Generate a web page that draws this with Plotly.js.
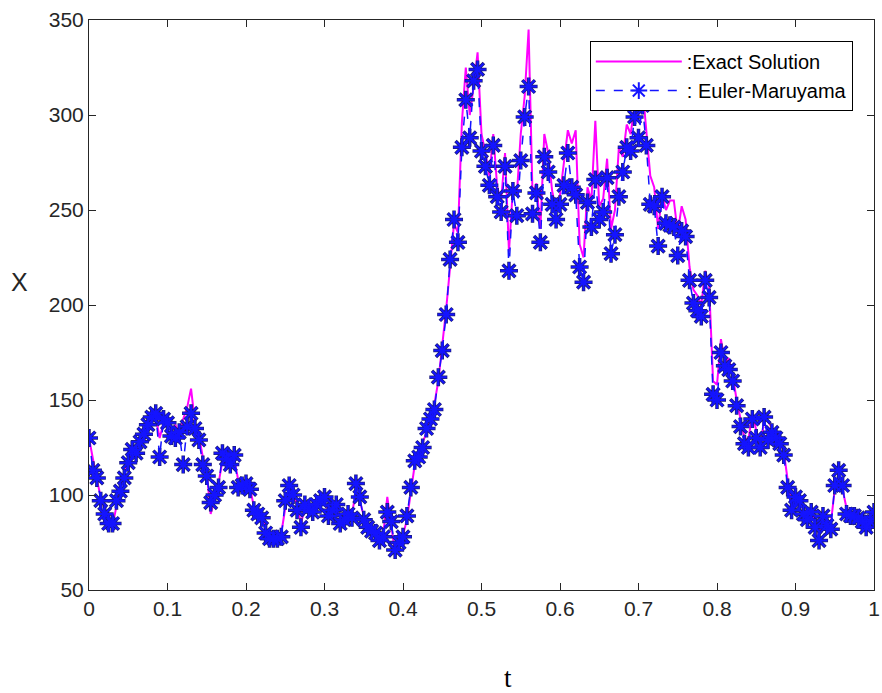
<!DOCTYPE html>
<html>
<head>
<meta charset="utf-8">
<script src="https://cdn.plot.ly/plotly-3.0.1.min.js"></script>
<style>
html,body{margin:0;padding:0;background:#ffffff;}
#chart{width:882px;height:693px;}
</style>
</head>
<body>
<div id="chart"></div>
<script>
// time grid step and values
var dt = 0.005;

var emValues = [
  130,113,109,97,90,85,85,97,102,109,
  117,124,122,128,132,137,141,143,120,140,
  138,131,130,133,116,136,143,135,129,116,
  110,96,100,104,122,119,116,121,104,105,
  106,
  103,92,90,88,80,77,77,77,78,97,
  105,100,92,83,95,93,91,95,97,99,
  89,92,95,85,87,90,88,106,99,87,
  83,81,80,76,78,91,86,71,75,78,
  89,104,118,
  120,125,135,140,145,162,176,195,224,245,
  233,283,308,288,318,324,281,273,263,284,
  257,249,273,218,260,247,276,299,315,248,
  259,233,278,270,253,245,253,263,280,
  262,258,220,212,254,241,266,245,249,267,
  227,237,257,270,283,281,299,288,305,284,
  253,252,231,257,243,242,241,226,239,236,
  213,201,197,194,213,204,153,150,175,168,
  166,160,147,136,127,125,140,130,125,141,
  129,133,130,127,121,104,92,99,97,90,
  87,91,83,76,89,84,82,105,113,105,
  90,89,89,88,86,83,86,91
];

var exactValues = [
  130,118,108,99,92,86,84,95,104,111,
  119,126,125,130,135,139,143,141,130,138,
  141,134,137,132,140,146,156,138,131,120,
  112,90,98,106,118,122,117,119,108,103,
  108,
  104,94,88,90,82,79,78,79,80,93,
  103,101,95,85,93,95,93,96,99,96,
  92,90,93,88,86,92,90,102,97,89,
  85,82,79,78,80,99,84,69,74,79,
  87,102,116,
  122,128,133,142,148,160,178,198,220,243,
  238,296,325,300,315,333,290,280,268,290,
  262,255,280,228,262,258,290,310,345,258,
  264,240,290,280,260,250,258,275,292,
  285,292,232,225,262,255,297,252,256,277,
  240,250,283,278,295,290,305,300,315,290,
  268,262,240,258,250,255,255,238,252,245,
  220,208,205,200,218,210,160,158,182,170,
  172,163,150,140,130,129,143,134,122,140,
  139,135,133,128,123,108,95,101,99,92,
  90,93,86,79,91,86,85,103,110,103,
  93,91,90,88,85,86,88,92
];

var xTicks = [0,0.1,0.2,0.3,0.4,0.5,0.6,0.7,0.8,0.9,1];
var xTickLabels = ["0","0.1","0.2","0.3","0.4","0.5","0.6","0.7","0.8","0.9","1"];
var yTicks = [50,100,150,200,250,300,350];
var yTickLabels = ["50","100","150","200","250","300","350"];

var tEM = emValues.map(function(v,i){ return +(i*dt).toFixed(4); });
var tEx = exactValues.map(function(v,i){ return +(i*dt).toFixed(4); });

var exactTrace = {
  x: tEx, y: exactValues, type: 'scatter', mode: 'lines',
  name: ':Exact Solution',
  line: {color: '#ff00ff', width: 2}
};
var emOutline = {
  x: tEM, y: emValues, type: 'scatter', mode: 'markers',
  showlegend: false, hoverinfo: 'skip',
  marker: {symbol: 'asterisk-open', size: 15, color: '#1c1c78', line: {color: '#1c1c78', width: 3.5}}
};
var emTrace = {
  x: tEM, y: emValues, type: 'scatter', mode: 'lines+markers',
  name: ': Euler-Maruyama',
  line: {color: '#1414ff', width: 1.5, dash: 'dash'},
  marker: {symbol: 'asterisk-open', size: 14, color: '#1414ff', line: {color: '#1414ff', width: 2}}
};

var axisCommon = {
  showline: true, linecolor: '#262626', linewidth: 1, mirror: 'ticks',
  ticks: 'inside', ticklen: 7, tickwidth: 1, tickcolor: '#262626',
  showgrid: false, zeroline: false,
  tickfont: {family: 'Liberation Sans, Arial, sans-serif', size: 21, color: '#262626'}
};

var layout = {
  width: 882, height: 693,
  margin: {l: 89, r: 8, t: 20, b: 103},
  paper_bgcolor: '#ffffff', plot_bgcolor: '#ffffff',
  showlegend: true,
  xaxis: Object.assign({}, axisCommon, {
    range: [0, 1], tickmode: 'array', tickvals: xTicks, ticktext: xTickLabels
  }),
  yaxis: Object.assign({}, axisCommon, {
    range: [50, 350], tickmode: 'array', tickvals: yTicks, ticktext: yTickLabels
  }),
  legend: {
    x: 0.973, y: 0.963, xanchor: 'right', yanchor: 'top',
    bgcolor: '#ffffff', bordercolor: '#000000', borderwidth: 1,
    font: {family: 'Liberation Sans, Arial, sans-serif', size: 20, color: '#000000'},
    itemwidth: 86, tracegroupgap: 0
  },
  annotations: [
    {text: 'X', xref: 'paper', yref: 'paper', x: -0.088, y: 0.54, showarrow: false,
     xanchor: 'center', yanchor: 'middle',
     font: {family: 'Liberation Sans, Arial, sans-serif', size: 25, color: '#262626'}},
    {text: 't', xref: 'paper', yref: 'paper', x: 0.534, y: -0.155, showarrow: false,
     xanchor: 'center', yanchor: 'middle',
     font: {family: 'Liberation Serif, Times New Roman, serif', size: 27, color: '#000000'}}
  ]
};

Plotly.newPlot('chart', [exactTrace, emOutline, emTrace], layout, {displayModeBar: false, staticPlot: true});
</script>
</body>
</html>
